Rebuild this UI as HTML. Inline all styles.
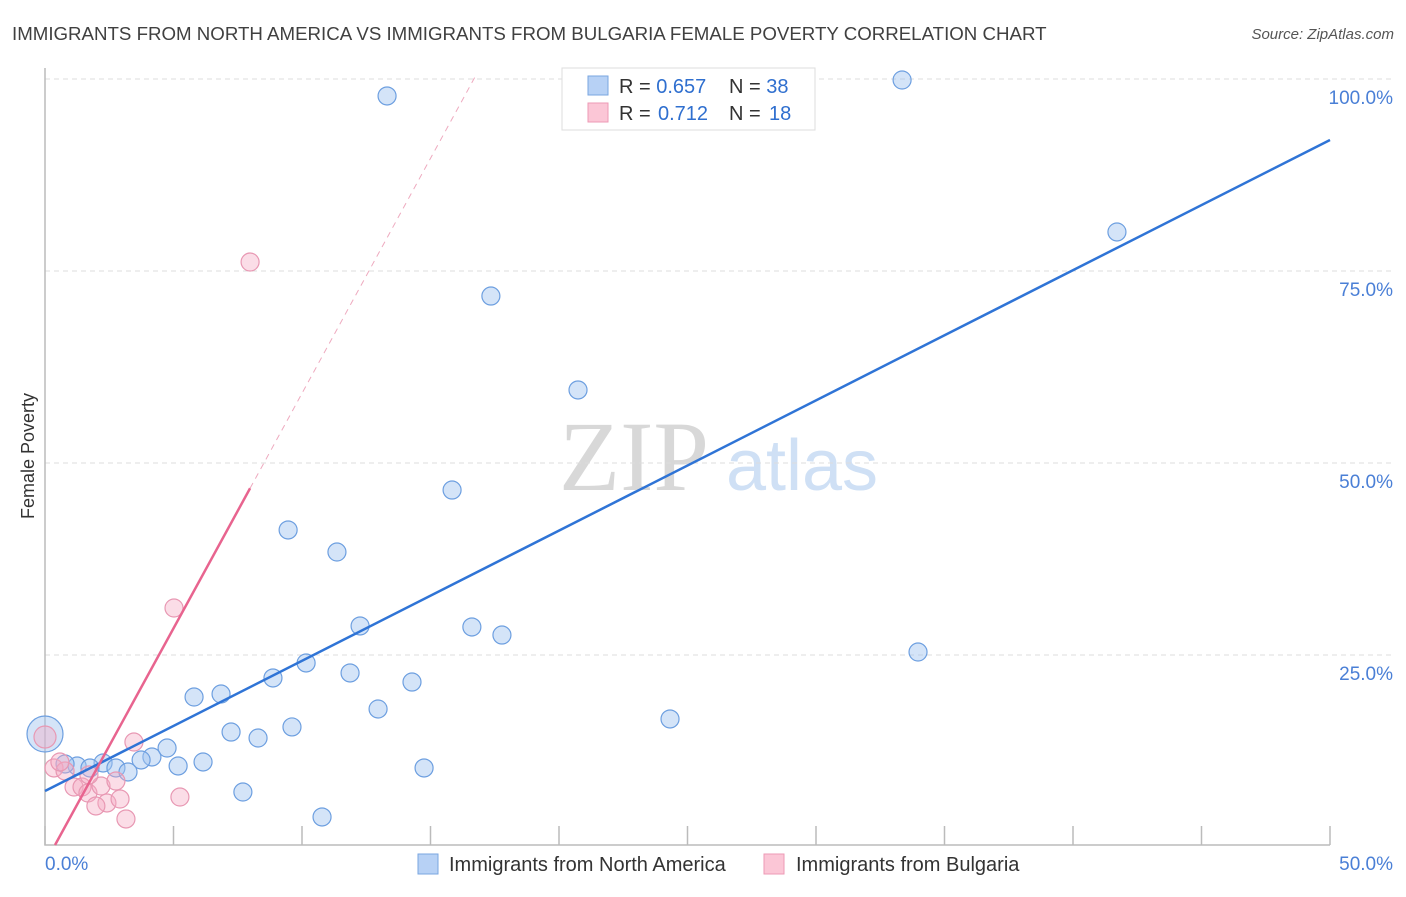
<!DOCTYPE html>
<html><head><meta charset="utf-8"><style>
body{margin:0;background:#fff;font-family:"Liberation Sans",sans-serif;}
svg text{font-family:"Liberation Sans",sans-serif;}
</style></head><body>
<svg id="c" width="1406" height="892">
<text x="12" y="40" font-size="18.7" fill="#404040">IMMIGRANTS FROM NORTH AMERICA VS IMMIGRANTS FROM BULGARIA FEMALE POVERTY CORRELATION CHART</text>
<text x="1394" y="39" font-size="15" fill="#555" font-style="italic" text-anchor="end">Source: ZipAtlas.com</text>
<text x="634" y="490" font-size="100" fill="#d8d8d8" style="font-family:'Liberation Serif',serif" text-anchor="middle">ZIP</text>
<text x="802" y="490" font-size="72" fill="#cfe0f5" text-anchor="middle">atlas</text>
<text x="34" y="456" font-size="18" fill="#333" text-anchor="middle" transform="rotate(-90 34 456)">Female Poverty</text>
<g id="grid"></g><g id="marks"></g>
<g>
<rect x="562" y="68" width="253" height="62" fill="#fff" stroke="#ddd"/>
<rect x="588" y="76" width="20" height="19" fill="#b7d1f5" stroke="#7aa6e0"/>
<rect x="588" y="103" width="20" height="19" fill="#fbc6d6" stroke="#ee9ab5"/>
<text x="619" y="93" font-size="20" fill="#333">R = <tspan fill="#2f6fcf">0.657</tspan><tspan x="729">N = </tspan><tspan fill="#2f6fcf">38</tspan></text>
<text x="619" y="120" font-size="20" fill="#333">R = <tspan x="658" fill="#2f6fcf">0.712</tspan><tspan x="729">N = </tspan><tspan x="769" fill="#2f6fcf">18</tspan></text>
</g>
<g>
<rect x="418" y="854" width="20" height="20" fill="#b7d1f5" stroke="#7aa6e0"/>
<text x="449" y="871" font-size="20" fill="#333">Immigrants from North America</text>
<rect x="764" y="854" width="20" height="20" fill="#fbc6d6" stroke="#ee9ab5"/>
<text x="796" y="871" font-size="20" fill="#333">Immigrants from Bulgaria</text>
</g>
<text x="45" y="870" font-size="19" fill="#4a7fd6">0.0%</text>
<text x="1393" y="870" font-size="19" fill="#4a7fd6" text-anchor="end">50.0%</text>
</svg>
<script>
const yTicks=[100,75,50,25];
const yTickLabels=["100.0%","75.0%","50.0%","25.0%"];
const xTicks=[0,5,10,15,20,25,30,35,40,45,50];
const naX=[13.31,33.35,41.71,17.35,20.74,15.84,9.46,11.36,12.26,16.61,17.78,33.97,10.16,8.87,11.87,14.28,5.80,6.85,12.96,24.32,7.24,8.29,9.61,4.75,4.16,3.74,5.18,6.15,2.26,1.25,1.75,2.76,3.23,0.78,14.75,7.70,10.78,0];
const naY=[97.79,99.87,80.08,71.74,59.51,46.48,41.28,38.41,28.78,28.65,27.60,25.39,23.96,22.01,22.66,21.48,19.53,19.92,17.97,16.67,14.97,14.19,15.63,12.89,11.72,11.33,10.55,11.07,10.94,10.55,10.29,10.29,9.77,10.81,10.29,7.16,3.91,14.71];
const bgX=[7.98,5.02,3.46,0,0.35,0.78,1.13,1.44,1.67,2.18,2.41,1.98,2.76,2.92,3.15,5.25,1.71,0.58];
const bgY=[76.17,31.12,13.67,14.32,10.29,9.90,7.81,7.81,7.03,7.94,5.73,5.34,8.59,6.25,3.65,6.51,9.38,11.07];
const naTrend=[7.29,92.06];
const bgTrend=[-2.13,6.12];
const X=v=>45+v*25.7, Y=v=>847-v*7.68;
const NS="http://www.w3.org/2000/svg";
function mk(t,a,p){const e=document.createElementNS(NS,t);for(const k in a)e.setAttribute(k,a[k]);p.appendChild(e);return e;}
const g=document.getElementById('grid'),m=document.getElementById('marks');
yTicks.forEach((v,i)=>{
 const l=mk('line',{x1:45,x2:1395,y1:Y(v),y2:Y(v),stroke:'#ddd','stroke-dasharray':'5,4'},g);
 
 
 const t=mk('text',{x:1393,y:Y(v)+25,'font-size':19,fill:'#4a7fd6','text-anchor':'end'},g);
 t.textContent=yTickLabels[i];
 
 
});
const ax=mk('path',{d:'M45 68 V845 H1330',fill:'none',stroke:'#bbb','stroke-width':1.5},g);


xTicks.forEach(v=>{
 const l=mk('line',{x1:X(v),x2:X(v),y1:826,y2:845,stroke:'#bbb','stroke-width':1.5},g);
 
 
});
naX.forEach((x,i)=>{
 const c=mk('circle',{cx:X(x),cy:Y(naY[i]),r:i==naX.length-1?18:9,fill:'rgba(160,196,240,0.45)',stroke:'#6d9fe0','stroke-width':1.2},m);
 
 
});
bgX.forEach((x,i)=>{
 const c=mk('circle',{cx:X(x),cy:Y(bgY[i]),r:i==3?11:9,fill:'rgba(245,170,195,0.4)',stroke:'#e898b3','stroke-width':1.2},m);
 
 
});
const t1=mk('line',{x1:X(0),y1:Y(naTrend[0]),x2:X(50),y2:Y(naTrend[1]),stroke:'#2f74d6','stroke-width':2.5},m);


const bx0=0.39,bx1=7.98,bx2=16.8,by=x=>bgTrend[0]+bgTrend[1]*x;
const t2=mk('line',{x1:X(bx0),y1:Y(by(bx0)),x2:X(bx1),y2:Y(by(bx1)),stroke:'#e8648f','stroke-width':2.5},m);


const t3=mk('line',{x1:X(bx1),y1:Y(by(bx1)),x2:X(bx2),y2:Y(by(bx2)),stroke:'#eeaabf','stroke-width':1,'stroke-dasharray':'6,5'},m);


</script>
</body></html>
